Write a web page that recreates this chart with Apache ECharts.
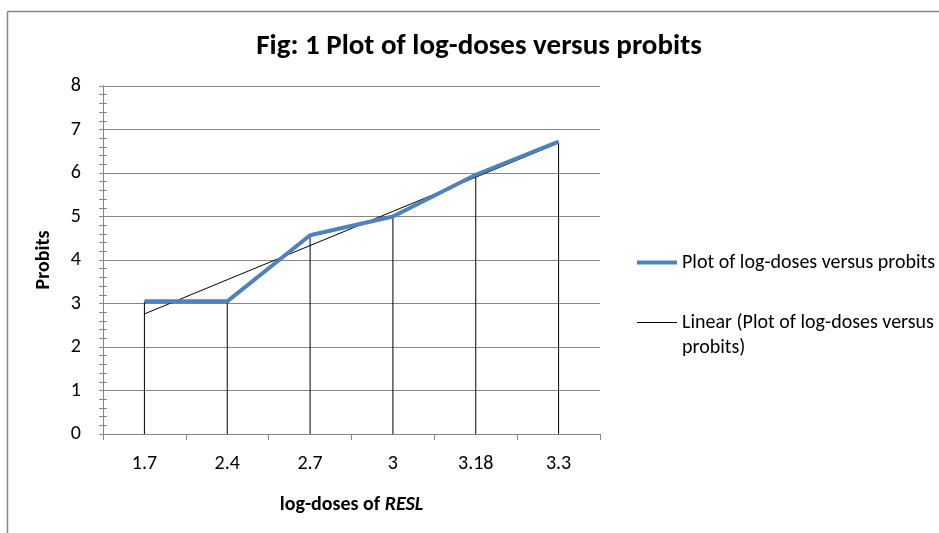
<!DOCTYPE html>
<html style="height: 100%">
<head>
    <meta charset="utf-8">
</head>
<body style="height: 100%; margin: 0; background: #fff">
<div id="probit_container" style="height: 533px; width: 939px"></div>
<script src="https://cdn.jsdelivr.net/npm/echarts@6/dist/echarts.min.js"></script>
<script type="text/javascript">
    // log-doses (categories) and probits
    var logDoses = ['1.7', '2.4', '2.7', '3', '3.18', '3.3'];
    var probits = [3.05, 3.05, 4.57, 5.0, 5.96, 6.72];
    var yTicks = [0, 1, 2, 3, 4, 5, 6, 7, 8];

    var FONT = "Carlito, 'Liberation Sans Narrow', 'Open Sans', sans-serif";
    var seriesName = 'Plot of log-doses versus probits';
    var trendName = 'Linear (Plot of log-doses versus probits)';

    // Excel style linear trendline over the category index (1..n)
    function linearTrend(vals) {
        var n = vals.length, sx = 0, sy = 0, sxy = 0, sxx = 0;
        for (var i = 0; i < n; i++) {
            var x = i + 1;
            sx += x; sy += vals[i]; sxy += x * vals[i]; sxx += x * x;
        }
        var slope = (n * sxy - sx * sy) / (n * sxx - sx * sx);
        var icpt = (sy - slope * sx) / n;
        return vals.map(function (v, i) { return +(icpt + slope * (i + 1)).toFixed(3); });
    }
    var trend = linearTrend(probits);

    var dom = document.getElementById('probit_container');
    var myChart = echarts.init(dom);

    var yAxisBase = {
        type: 'value',
        min: yTicks[0],
        max: yTicks[yTicks.length - 1],
        interval: 1,
        axisLine: { show: true, lineStyle: { color: '#868686', width: 1 } },
        splitLine: { show: false },
        minorTick: { show: true, splitNumber: 5, length: 4, lineStyle: { color: '#868686' } },
        axisTick: { show: true, length: 4, lineStyle: { color: '#868686' } }
    };

    var legendText = { fontFamily: FONT, fontSize: 20, color: '#000', lineHeight: 25 };

    var option = {
        backgroundColor: '#fff',
        animation: false,
        title: {
            text: 'Fig: 1 Plot of log-doses versus probits',
            left: 474,
            top: 27,
            textAlign: 'center',
            textStyle: { fontFamily: FONT, fontSize: 29, fontWeight: 'bold', color: '#000' }
        },
        legend: [
            {
                left: 632,
                top: 245,
                icon: 'rect',
                itemWidth: 40,
                itemHeight: 4,
                itemGap: 4,
                data: [seriesName],
                textStyle: legendText
            },
            {
                left: 632,
                top: 280,
                icon: 'rect',
                itemWidth: 40,
                itemHeight: 1,
                itemGap: 4,
                data: [trendName],
                // empty first line keeps "Linear ..." level with the line sample
                formatter: function () {
                    return '\nLinear (Plot of log-doses versus\nprobits)';
                },
                textStyle: legendText
            }
        ],
        grid: { left: 103, right: 339, top: 86, bottom: 99 },
        xAxis: {
            type: 'category',
            data: logDoses,
            boundaryGap: true,
            axisLine: { lineStyle: { color: '#868686', width: 1 } },
            axisTick: { show: true, inside: false, length: 6, alignWithLabel: false, lineStyle: { color: '#868686' } },
            axisLabel: { margin: 20, fontFamily: FONT, fontSize: 20, color: '#000' },
            name: '{n|log-doses of }{i|RESL}',
            nameLocation: 'middle',
            nameGap: 61,
            nameTextStyle: {
                rich: {
                    n: { fontFamily: FONT, fontSize: 20, fontWeight: 'bold', color: '#000' },
                    i: { fontFamily: FONT, fontSize: 20, fontWeight: 'bold', fontStyle: 'italic', color: '#000' }
                }
            }
        },
        yAxis: [
            echarts.util.merge({
                name: 'Probits',
                nameLocation: 'middle',
                nameGap: 49,
                nameRotate: 90,
                nameTextStyle: { fontFamily: FONT, fontSize: 20, fontWeight: 'bold', color: '#000' },
                splitLine: { show: true, lineStyle: { color: '#868686', width: 1 } },
                axisLabel: { margin: 22, fontFamily: FONT, fontSize: 20, color: '#000' }
            }, echarts.util.clone(yAxisBase), false),
            // second copy of the axis draws the ticks on the inner side, so they cross the line
            echarts.util.merge({
                position: 'left',
                axisLabel: { show: false },
                axisTick: { inside: true },
                minorTick: { show: true, splitNumber: 5, length: 4, lineStyle: { color: '#868686' } }
            }, echarts.util.clone(yAxisBase), false)
        ],
        graphic: [
            { type: 'line', shape: { x1: 7.5, y1: 11.5, x2: 7.5, y2: 533 }, style: { stroke: '#868686', lineWidth: 1.5 }, silent: true },
            { type: 'line', shape: { x1: 7.5, y1: 11.5, x2: 939, y2: 11.5 }, style: { stroke: '#868686', lineWidth: 1.5 }, silent: true }
        ],
        series: [
            {
                // drop lines from each data point down to the axis
                name: 'drop lines',
                type: 'bar',
                data: probits,
                barWidth: 1,
                itemStyle: { color: '#000' },
                z: 2
            },
            {
                name: trendName,
                type: 'line',
                data: trend,
                symbol: 'none',
                lineStyle: { color: '#000', width: 1 },
                itemStyle: { color: '#000' },
                z: 3
            },
            {
                name: seriesName,
                type: 'line',
                data: probits,
                symbol: 'none',
                lineStyle: { color: '#4f81bd', width: 4 },
                itemStyle: { color: '#4f81bd' },
                z: 4
            }
        ]
    };

    if (option && typeof option === 'object') {
        myChart.setOption(option, true);
    }
</script>
</body>
</html>
